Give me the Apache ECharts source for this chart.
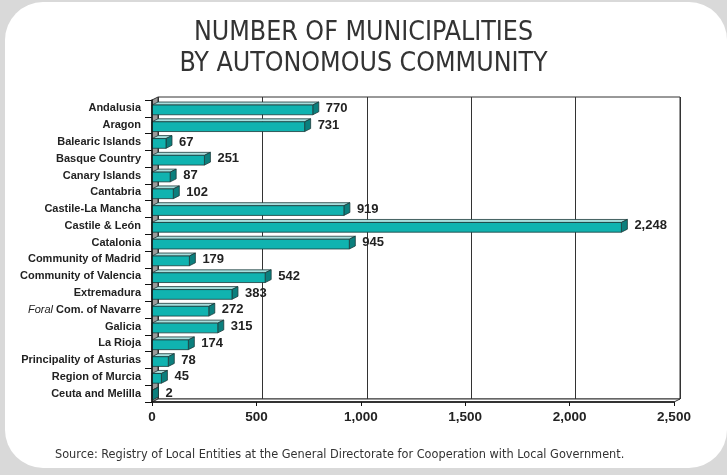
<!DOCTYPE html>
<html>
<head>
<meta charset="utf-8">
<style>
html,body{margin:0;padding:0;background:#d9d9d9;}
#c{width:727px;height:475px;}
</style>
<script src="https://cdn.jsdelivr.net/npm/echarts@6/dist/echarts.min.js"></script>
</head>
<body>
<div id="c"></div>
<script>
var categories = ['Andalusia','Aragon','Balearic Islands','Basque Country','Canary Islands','Cantabria','Castile-La Mancha','Castile & León','Catalonia','Community of Madrid','Community of Valencia','Extremadura','Foral Com. of Navarre','Galicia','La Rioja','Principality of Asturias','Region of Murcia','Ceuta and Melilla'];
var values = [770,731,67,251,87,102,919,2248,945,179,542,383,272,315,174,78,45,2];
var xTicks = [0,500,1000,1500,2000,2500];

var DX = 6, DY = -3;      // wall depth
var BDX = 6, BDY = -3;    // bar depth
var titleFont = '"DejaVu Sans Condensed","Liberation Sans",sans-serif';
var labelFont = '"Liberation Sans",Arial,sans-serif';

var chart = echarts.init(document.getElementById('c'));

function fmt(v){ return v.toLocaleString('en-US'); }

var option = {
  backgroundColor: '#d9d9d9',
  animation: false,
  graphic: [{
    type: 'rect', z: -10, silent: true,
    shape: {x: 5, y: 2, width: 722, height: 466, r: 38},
    style: {fill: '#ffffff'}
  }],
  title: [{
    text: 'NUMBER OF MUNICIPALITIES\nBY AUTONOMOUS COMMUNITY',
    left: 'center', top: 13,
    textStyle: {fontFamily: titleFont, fontSize: 26.5, fontWeight: 'normal', color: '#333', lineHeight: 31}
  },{
    text: 'Source: Registry of Local Entities at the General Directorate for Cooperation with Local Government.',
    left: 50, top: 443,
    textStyle: {fontFamily: titleFont, fontSize: 12.6, fontWeight: 'normal', color: '#333'}
  }],
  grid: [
    {left: 152 + DX, right: 53 - DX, top: 100 + DY, bottom: 73 - DY, show: true, backgroundColor: '#fff', borderColor: '#333', borderWidth: 1, outerBoundsMode: 'none', containLabel: false},
    {left: 152, right: 53, top: 100, bottom: 73, outerBoundsMode: 'none', containLabel: false}
  ],
  xAxis: [{
    gridIndex: 0, type: 'value', min: 0, max: 2500, interval: 500,
    axisLine: {show: false}, axisTick: {show: false}, axisLabel: {show: false},
    splitLine: {show: true, lineStyle: {color: '#333', width: 1}}
  },{
    gridIndex: 1, type: 'value', min: 0, max: 2500, interval: 500, z: 10,
    axisLine: {show: true, lineStyle: {color: '#111', width: 1.5}},
    axisTick: {show: true, length: 4, lineStyle: {color: '#111'}},
    splitLine: {show: false},
    axisLabel: {
      margin: 8, color: '#222', fontFamily: labelFont, fontWeight: 'bold', fontSize: 13.5,
      formatter: function(v){ return fmt(v); }
    }
  }],
  yAxis: [{
    gridIndex: 0, type: 'category', data: categories, inverse: true, show: false
  },{
    gridIndex: 1, type: 'category', data: categories, inverse: true, z: 10,
    axisLine: {show: true, lineStyle: {color: '#111', width: 1.5}},
    axisTick: {show: true, length: 7, lineStyle: {color: '#111'}},
    axisLabel: {
      interval: 0, hideOverlap: false,
      margin: 11, color: '#222', fontFamily: labelFont, fontWeight: 'bold', fontSize: 11,
      formatter: function(v){
        if (v.indexOf('Foral ') === 0) return '{i|Foral} ' + v.slice(6);
        return v;
      },
      rich: {i: {fontStyle: 'italic', fontWeight: 'normal', fontFamily: labelFont, fontSize: 11, color: '#222'}}
    }
  }],
  series: [{
    type: 'custom', xAxisIndex: 1, yAxisIndex: 1, z: 1,
    data: [[0, 0]],
    renderItem: function(params, api){
      var cs = params.coordSys;
      var x0 = cs.x, y0 = cs.y, x1 = cs.x + cs.width, y1 = cs.y + cs.height;
      return {type: 'group', children: [
        {type: 'polygon', shape: {points: [[x0,y0],[x0+DX,y0+DY],[x0+DX,y1+DY],[x0,y1]]},
         style: {fill: '#9b9b9b', stroke: '#333', lineWidth: 1}},
        {type: 'polygon', shape: {points: [[x0,y1],[x0+DX,y1+DY],[x1+DX,y1+DY],[x1,y1]]},
         style: {fill: '#ffffff', stroke: '#333', lineWidth: 1}}
      ]};
    }
  },{
    type: 'custom', xAxisIndex: 1, yAxisIndex: 1, z: 5,
    data: values.map(function(v, i){ return [v, i]; }),
    renderItem: function(params, api){
      var v = api.value(0), idx = api.value(1);
      var s = api.coord([0, idx]);
      var e = api.coord([v, idx]);
      var band = api.size([0, 1])[1];
      var h = band * 0.58;
      var top = s[1] - h/2 + 1.5, bot = s[1] + h/2 + 1.5;
      var xs = s[0], xe = e[0];
      return {type: 'group', children: [
        {type: 'polygon', shape: {points: [[xs,top],[xs+BDX,top+BDY],[xe+BDX,top+BDY],[xe,top]]},
         style: {fill: '#a8dedd', stroke: '#1d3b3b', lineWidth: 0.8}},
        {type: 'polygon', shape: {points: [[xe,top],[xe+BDX,top+BDY],[xe+BDX,bot+BDY],[xe,bot]]},
         style: {fill: '#0b7f7d', stroke: '#1d3b3b', lineWidth: 0.8}},
        {type: 'rect', shape: {x: xs, y: top, width: xe - xs, height: bot - top},
         style: {fill: '#10b3b0', stroke: '#1d3b3b', lineWidth: 0.8}},
        {type: 'text', style: {x: xe + BDX + 7, y: s[1], text: fmt(v), verticalAlign: 'middle', align: 'left',
          fill: '#222', font: 'bold 13px "Liberation Sans", Arial, sans-serif'}}
      ]};
    }
  }]
};
chart.setOption(option);
</script>
</body>
</html>
